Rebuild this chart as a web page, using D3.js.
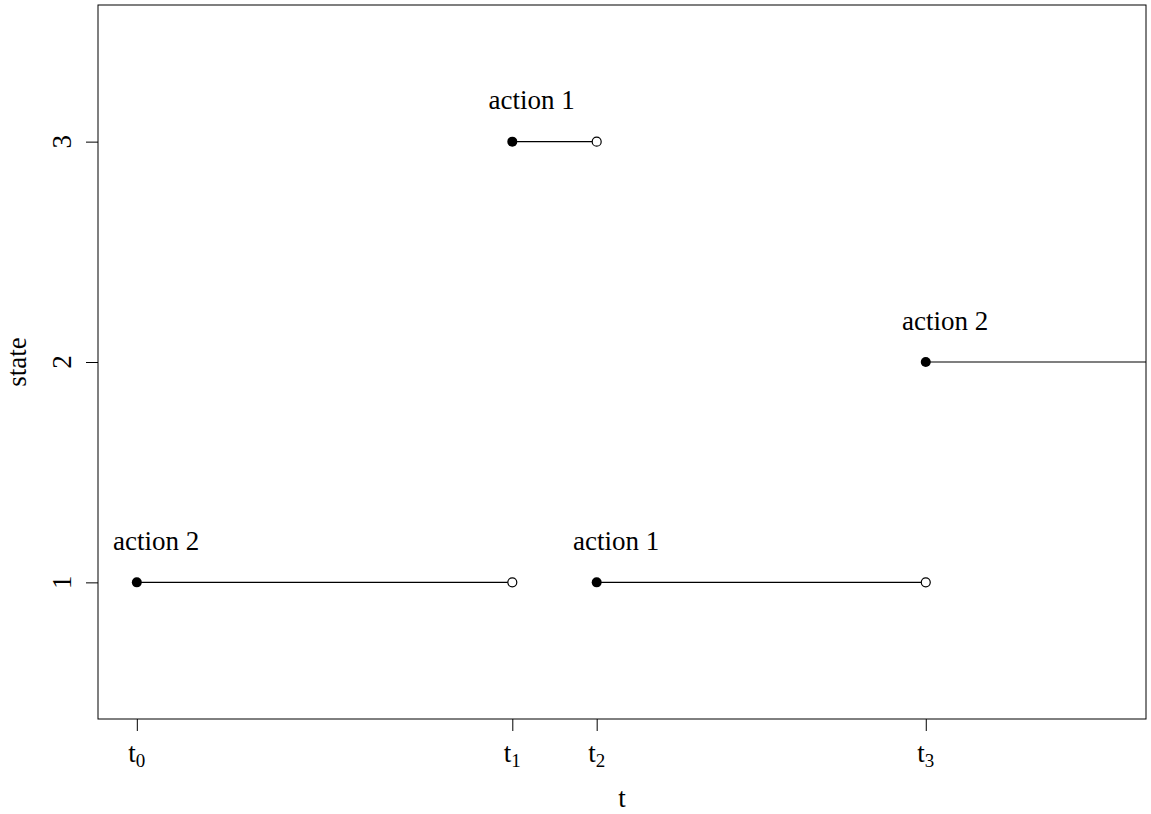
<!DOCTYPE html>
<html>
<head>
<meta charset="utf-8">
<script src="https://cdn.jsdelivr.net/npm/d3@7"></script>
<style>
  body { margin: 0; background: #fff; }
  text { font-family: "Liberation Serif", "Times New Roman", serif; fill: #000; }
</style>
</head>
<body>
<div id="chart"></div>
<script>
// data: event times, states and actions
var tickNames = ["0", "1", "2", "3"];
var tickTimes = [0, 4.45, 5.45, 9.35];
var segStart = [0, 4.45, 5.45, 9.35];
var segEnd = [4.45, 5.45, 9.35, 13];
var segState = [1, 3, 1, 2];
var segAction = ["action 2", "action 1", "action 1", "action 2"];
var yTicks = [1, 2, 3];

var svgWidth = 1151;
var svgHeight = 814;

// plot box
var margin = { top: 5, bottom: 95, left: 98, right: 5 };
var width = svgWidth - margin.left - margin.right;
var height = svgHeight - margin.top - margin.bottom;
var fs = 27;

var svg = d3.select("#chart")
  .append("svg")
  .attr("width", svgWidth)
  .attr("height", svgHeight);

var g = svg.append("g")
  .attr("transform", `translate(${margin.left}, ${margin.top})`);

// R style 4% expansion of xlim / ylim
var xlim = [0, 11.5], ylim = [0.5, 3.5];
var xpad = (xlim[1] - xlim[0]) * 0.04, ypad = (ylim[1] - ylim[0]) * 0.04;

var x = d3.scaleLinear()
  .domain([xlim[0] - xpad, xlim[1] + xpad])
  .range([0, width]);

var y = d3.scaleLinear()
  .domain([ylim[0] - ypad, ylim[1] + ypad])
  .range([height, 0]);

g.append("clipPath").attr("id", "clip")
  .append("rect").attr("width", width).attr("height", height);

// x axis
var xAxis = g.append("g")
  .attr("transform", `translate(0, ${height})`)
  .call(d3.axisBottom(x).tickValues(tickTimes).tickSize(12).tickSizeOuter(0).tickFormat(""));
xAxis.select(".domain").remove();
xAxis.selectAll(".tick line").attr("stroke", "#000");

var xl = g.selectAll(null)
  .data(tickTimes)
  .enter()
  .append("text")
  .attr("x", d => x(d))
  .attr("y", height + 43)
  .attr("text-anchor", "middle")
  .attr("font-size", fs + "px");
xl.append("tspan").text("t");
xl.append("tspan").attr("font-size", "19px").attr("dy", 5).text((d, i) => tickNames[i]);

// y axis
var yAxis = g.append("g")
  .call(d3.axisLeft(y).tickValues(yTicks).tickSize(12).tickSizeOuter(0).tickFormat(""));
yAxis.select(".domain").remove();
yAxis.selectAll(".tick line").attr("stroke", "#000");

g.selectAll(null)
  .data(yTicks)
  .enter()
  .append("text")
  .attr("transform", d => `translate(-27, ${y(d)}) rotate(-90)`)
  .attr("text-anchor", "middle")
  .attr("font-size", fs + "px")
  .text(d => d);

// box
g.append("rect")
  .attr("width", width)
  .attr("height", height)
  .attr("fill", "none")
  .attr("stroke", "#000")
  .attr("stroke-width", 1);

// axis titles
g.append("text")
  .attr("x", width / 2)
  .attr("y", height + 88)
  .attr("text-anchor", "middle")
  .attr("font-size", fs + "px")
  .text("t");

g.append("text")
  .attr("transform", `translate(-72, ${height / 2}) rotate(-90)`)
  .attr("text-anchor", "middle")
  .attr("font-size", fs + "px")
  .text("state");

// segments
var plot = g.append("g").attr("clip-path", "url(#clip)");

plot.selectAll(null)
  .data(segState)
  .enter()
  .append("line")
  .attr("x1", (d, i) => x(segStart[i]))
  .attr("x2", (d, i) => x(segEnd[i]))
  .attr("y1", d => y(d))
  .attr("y2", d => y(d))
  .attr("stroke", "#000")
  .attr("stroke-width", 1.2);

// open end points
plot.selectAll(null)
  .data(segState)
  .enter()
  .append("circle")
  .attr("cx", (d, i) => x(segEnd[i]))
  .attr("cy", d => y(d))
  .attr("r", 4.5)
  .attr("fill", "#fff")
  .attr("stroke", "#000")
  .attr("stroke-width", 1.2);

// filled start points
plot.selectAll(null)
  .data(segState)
  .enter()
  .append("circle")
  .attr("cx", (d, i) => x(segStart[i]))
  .attr("cy", d => y(d))
  .attr("r", 5)
  .attr("fill", "#000");

// action labels
g.selectAll(null)
  .data(segAction)
  .enter()
  .append("text")
  .attr("x", (d, i) => x(segStart[i] + 0.23))
  .attr("y", (d, i) => y(segState[i] + 0.19))
  .attr("dy", "0.35em")
  .attr("text-anchor", "middle")
  .attr("font-size", fs + "px")
  .text(d => d);
</script>
</body>
</html>
